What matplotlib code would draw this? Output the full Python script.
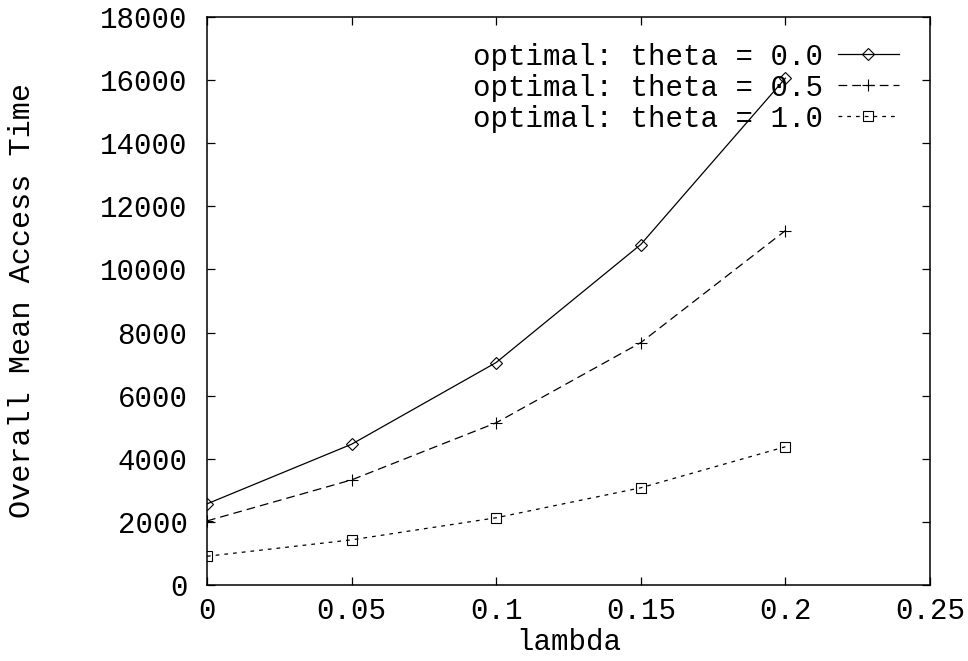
import matplotlib
matplotlib.use('Agg')
import matplotlib.pyplot as plt

# data
lam = [0.0, 0.05, 0.1, 0.15, 0.2]
theta_00 = [2570, 4460, 7050, 10790, 16060]
theta_05 = [2030, 3330, 5140, 7680, 11230]
theta_10 = [910, 1430, 2130, 3080, 4380]
labels = ['optimal: theta = 0.0', 'optimal: theta = 0.5', 'optimal: theta = 1.0']

plt.rcParams['font.family'] = ['Liberation Mono', 'DejaVu Sans Mono']
plt.rcParams['font.size'] = 21

fig = plt.figure(figsize=(9.68, 6.61), dpi=100)
ax = fig.add_subplot(111)
fig.subplots_adjust(left=0.2138, right=0.9607, top=0.9743, bottom=0.115)

lw = 0.9
ax.plot(lam, theta_00, color='black', lw=lw, marker='D', markersize=6,
        markerfacecolor='none', markeredgewidth=0.8, label=labels[0])
ax.plot(lam, theta_05, color='black', lw=lw, marker='+', markersize=9,
        markeredgewidth=0.8, dashes=(7, 4), label=labels[1])
ax.plot(lam, theta_10, color='black', lw=lw, marker='s', markersize=7,
        markerfacecolor='none', markeredgewidth=0.8, dashes=(3, 4), label=labels[2])

ax.set_xlim(0, 0.25)
ax.set_ylim(0, 18000)
ax.set_xticks([0, 0.05, 0.1, 0.15, 0.2, 0.25])
ax.set_xticklabels(['0', '0.05', '0.1', '0.15', '0.2', '0.25'])
ax.set_yticks(range(0, 18001, 2000))

ax.tick_params(direction='in', length=6, width=0.9, top=True, right=True)
ax.tick_params(axis='x', pad=9)
ax.tick_params(axis='y', pad=14)
for s in ax.spines.values():
    s.set_linewidth(1.1)

ax.set_xlabel('lambda', labelpad=2)
ax.set_ylabel('Overall Mean Access Time', labelpad=46, fontsize=21.7)

ax.legend(loc='upper right', bbox_to_anchor=(0.965, 0.965), frameon=False,
          markerfirst=False, handlelength=2.1, handletextpad=0.5,
          labelspacing=0.1, borderaxespad=0, borderpad=0.2)

fig.savefig('out.png', dpi=100)
